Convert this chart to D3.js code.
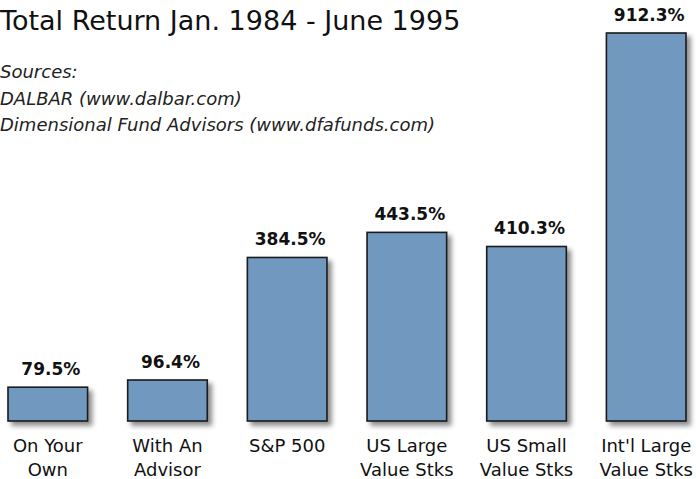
<!DOCTYPE html>
<html>
<head>
<meta charset="utf-8">
<script src="https://cdn.jsdelivr.net/npm/d3@7"></script>
<style>
  body { margin: 0; background: #fff; }
  svg { display: block; }
</style>
</head>
<body>
<svg id="SVG_CONTAINER" width="696" height="479"></svg>
<script>
let d3 = window.d3;

// chart data
const categories = ["On Your Own", "With An Advisor", "S&P 500", "US Large Value Stks", "US Small Value Stks", "Int'l Large Value Stks"];
const labelLines = [["On Your", "Own"], ["With An", "Advisor"], ["S&P 500"], ["US Large", "Value Stks"], ["US Small", "Value Stks"], ["Int'l Large", "Value Stks"]];
const returns = [79.5, 96.4, 384.5, 443.5, 410.3, 912.3];
const sources = ["Sources:", "DALBAR (www.dalbar.com)", "Dimensional Fund Advisors (www.dfafunds.com)"];

const width = 696, height = 479;
const BASE = 421;
const FONT = "'DejaVu Sans', Verdana, sans-serif";

let svg = d3.select("#SVG_CONTAINER");

// soft drop shadow under the bars
let defs = svg.append("defs");
let f = defs.append("filter").attr("id", "shadow")
  .attr("x", "-20%").attr("y", "-20%").attr("width", "150%").attr("height", "150%");
f.append("feDropShadow")
  .attr("dx", 4).attr("dy", 4).attr("stdDeviation", 2.5)
  .attr("flood-color", "#000").attr("flood-opacity", 0.45);

let xScale = d3.scaleBand()
  .domain(categories)
  .range([8, 686])
  .paddingInner(0.335)
  .paddingOuter(0);

let yScale = d3.scaleLinear()
  .domain([0, 912.3])
  .range([BASE, 33]);

// title + sources
svg.append("text")
  .attr("x", 0).attr("y", 30)
  .style("font-family", FONT)
  .style("font-size", "27px")
  .style("fill", "#111")
  .text("Total Return Jan. 1984 - June 1995");

svg.selectAll(".src")
  .data(sources)
  .enter()
  .append("text")
  .attr("class", "src")
  .attr("x", 0)
  .attr("y", (d, i) => 78 + i * 26.5)
  .style("font-family", FONT)
  .style("font-style", "italic")
  .style("font-size", "18px")
  .style("fill", "#222")
  .text(d => d);

let chart = svg.append("g").attr("id", "chart");

chart.selectAll("rect")
  .data(returns)
  .enter()
  .append("rect")
  .attr("x", (d, i) => xScale(categories[i]))
  .attr("y", d => yScale(d))
  .attr("width", xScale.bandwidth())
  .attr("height", d => BASE - yScale(d))
  .attr("fill", "#7199bf")
  .attr("stroke", "#1a1a1a")
  .attr("stroke-width", 1.6)
  .attr("filter", "url(#shadow)");

// value labels
chart.selectAll(".val")
  .data(returns)
  .enter()
  .append("text")
  .attr("class", "val")
  .attr("x", (d, i) => xScale(categories[i]) + xScale.bandwidth() / 2 + 3)
  .attr("y", d => yScale(d) - 12)
  .attr("text-anchor", "middle")
  .style("font-family", FONT)
  .style("font-weight", "bold")
  .style("font-size", "17px")
  .style("fill", "#111")
  .text(d => d.toFixed(1) + "%");

// category labels
let cat = chart.selectAll(".cat")
  .data(labelLines)
  .enter()
  .append("text")
  .attr("class", "cat")
  .attr("text-anchor", "middle")
  .style("font-family", FONT)
  .style("font-size", "18px")
  .style("fill", "#111");

cat.selectAll("tspan")
  .data((d, i) => d.map(t => ({ t: t, i: i })))
  .enter()
  .append("tspan")
  .attr("x", d => xScale(categories[d.i]) + xScale.bandwidth() / 2)
  .attr("y", (d, j) => 452 + j * 24)
  .text(d => d.t);
</script>
</body>
</html>
